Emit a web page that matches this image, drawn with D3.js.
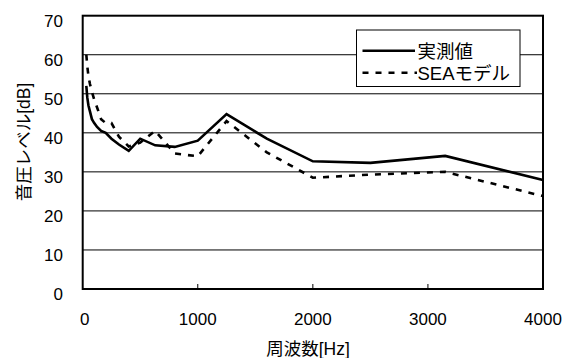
<!DOCTYPE html>
<html>
<head>
<meta charset="utf-8" />
<style>
  html, body { margin: 0; padding: 0; background: #fff; }
  text { font-family: "Liberation Sans", Arial, "Noto Sans CJK JP", sans-serif; fill: #000; }
  .grid { stroke: #000; stroke-width: 1; }
  .frame { fill: none; stroke: #000; stroke-width: 2; }
</style>
</head>
<body>
<div id="vis"></div>
<script src="https://d3js.org/d3.v7.min.js"></script>
<script>
// 1/3 octave band centres [Hz]
var freqs = [31.5, 40, 50, 63, 80, 100, 125, 160, 200, 250, 315, 400, 500, 630, 800, 1000, 1250, 1600, 2000, 2500, 3150, 4000];
// measured (実測値)
var measured = [52, 49, 47, 45.5, 43.5, 42.5, 41.5, 40.5, 40, 38.5, 37, 35.4, 38.5, 36.8, 36.4, 38, 44.8, 38.5, 32.7, 32.3, 34.1, 27.9];
// SEA model
var seaModel = [60, 57, 54.5, 52.5, 50.5, 48.5, 46.5, 43.5, 42.5, 42.5, 39, 36.5, 37.5, 40.5, 34.7, 34, 43, 35, 28.5, 29.3, 30, 23.8];
var xTicks = [0, 1000, 2000, 3000, 4000];
var yTicks = [0, 10, 20, 30, 40, 50, 60, 70];
var seriesNames = ["実測値", "SEAモデル"];

var W = 566, H = 358;
var svg = d3.select("#vis").append("svg").attr("width", W).attr("height", H);

var x = d3.scaleLinear().domain([0, 4000]).range([82.7, 543]);
var y = d3.scaleLinear().domain([0, 70]).range([289, 15.7]);

// gridlines
svg.selectAll(".grid").data(yTicks.slice(1, -1)).enter().append("line")
  .attr("class", "grid")
  .attr("x1", x(0)).attr("x2", x(4000))
  .attr("y1", function(d) { return y(d); }).attr("y2", function(d) { return y(d); });

// x ticks (inside, from bottom)
svg.selectAll(".xtick").data(xTicks.slice(1, -1)).enter().append("line")
  .attr("stroke", "#000").attr("stroke-width", 1)
  .attr("x1", function(d) { return x(d); }).attr("x2", function(d) { return x(d); })
  .attr("y1", y(0)).attr("y2", y(0) - 5);

// y labels
svg.selectAll(".ylab").data(yTicks).enter().append("text")
  .attr("x", 63).attr("y", function(d) { return y(d) + 11; })
  .attr("text-anchor", "end").attr("font-size", 17)
  .text(function(d) { return d; });

// x labels
svg.selectAll(".xlab").data(xTicks).enter().append("text")
  .attr("x", function(d) { return x(d) + (d === 0 ? 2 : 0); }).attr("y", 325)
  .attr("text-anchor", "middle").attr("font-size", 17)
  .text(function(d) { return d; });

// axis titles
svg.append("text").attr("x", 308).attr("y", 355).attr("text-anchor", "middle")
  .attr("font-size", 17.5).text("周波数[Hz]");
svg.append("text").attr("transform", "translate(30,142) rotate(-90)")
  .attr("text-anchor", "middle").attr("font-size", 17.5).text("音圧レベル[dB]");

var line = d3.line().x(function(d) { return x(d[0]); }).y(function(d) { return y(d[1]); });

svg.append("path").datum(d3.zip(freqs, seaModel))
  .attr("d", line).attr("fill", "none").attr("stroke", "#000")
  .attr("stroke-width", 2.6).attr("stroke-dasharray", "6,7");
svg.append("path").datum(d3.zip(freqs, measured))
  .attr("d", line).attr("fill", "none").attr("stroke", "#000")
  .attr("stroke-width", 2.6).attr("stroke-linejoin", "miter");

// frame
svg.append("rect").attr("class", "frame")
  .attr("x", x(0)).attr("y", y(70)).attr("width", x(4000) - x(0)).attr("height", y(0) - y(70));

// legend
var lg = svg.append("g");
lg.append("rect").attr("x", 356.5).attr("y", 30).attr("width", 163.5).attr("height", 56.5)
  .attr("fill", "#fff").attr("stroke", "#000").attr("stroke-width", 1);
var rows = lg.selectAll(".row").data(seriesNames).enter().append("g")
  .attr("transform", function(d, i) { return "translate(0," + (50.7 + i * 22) + ")"; });
rows.append("line").attr("x1", 362.5).attr("x2", function(d, i) { return i ? 417 : 415; })
  .attr("y1", 0).attr("y2", 0).attr("stroke", "#000").attr("stroke-width", 2.6)
  .attr("stroke-dasharray", function(d, i) { return i ? "6,7" : null; });
rows.append("text").attr("x", 417.5).attr("y", 7).attr("font-size", 18.5)
  .text(function(d) { return d; });
</script>
</body>
</html>
